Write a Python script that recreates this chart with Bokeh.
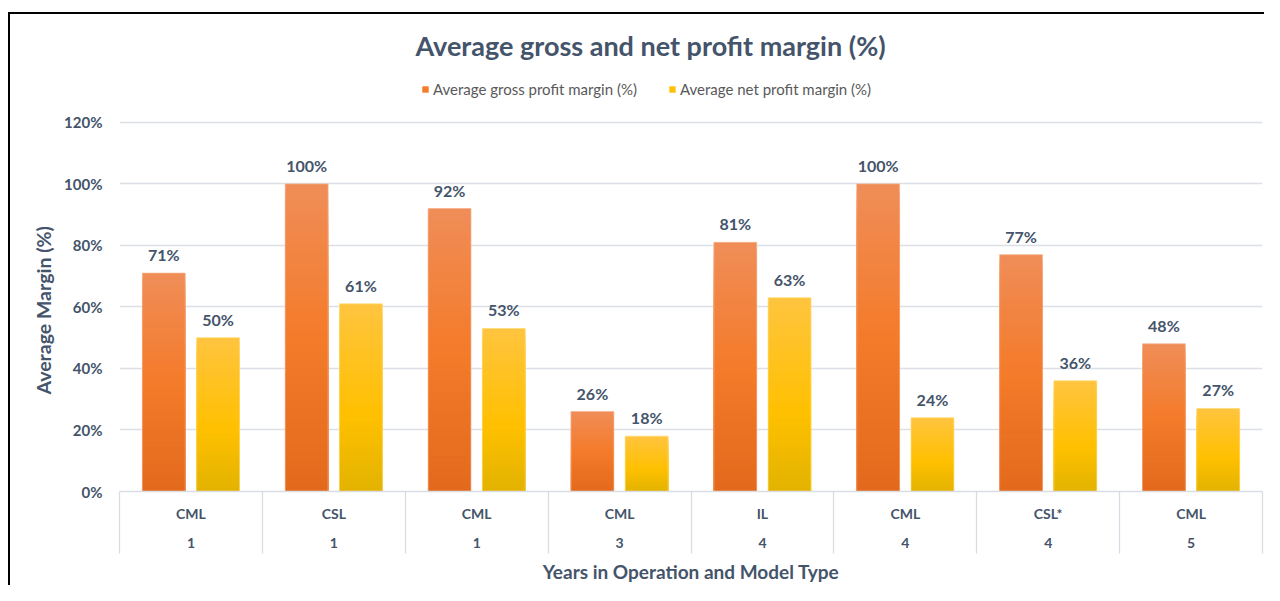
import numpy as np
from bokeh.plotting import figure
from bokeh.models import (ColumnDataSource, FixedTicker, LinearAxis, Legend, LegendItem,
                          PrintfTickFormatter, Range1d, LabelSet, Title)
from bokeh.core.properties import value
from bokeh.embed import file_html
from bokeh.resources import INLINE

# ---------------- data ----------------
models = ["CML", "CSL", "CML", "CML", "IL", "CML", "CSL*", "CML"]
years = ["1", "1", "1", "3", "4", "4", "4", "5"]
gross = [71, 100, 92, 26, 81, 100, 77, 48]
net = [50, 61, 53, 18, 63, 24, 36, 27]
y_ticks = [0, 20, 40, 60, 80, 100, 120]
series_names = ["Average gross profit margin (%)", "Average net profit margin (%)"]

# ---------------- style / layout ----------------
TXT = "#44546A"
FONT = "Lato"
ORANGE_STOPS = [(0.0, "#E3691C"), (0.5, "#F47B2A"), (1.0, "#F08D58")]
YELLOW_STOPS = [(0.0, "#E2B300"), (0.4, "#FFC000"), (1.0, "#FFC43F")]
NS = 40
BAR_W = 0.30
OFF = 0.19
Y_MAX = 139.8   # room above the 120% gridline for the legend (inside the plot area)


def hex2rgb(h):
    h = h.lstrip("#")
    return [int(h[i:i + 2], 16) for i in (0, 2, 4)]


def grad(stops, t):
    for (p0, c0), (p1, c1) in zip(stops[:-1], stops[1:]):
        if p0 <= t <= p1:
            f = (t - p0) / (p1 - p0)
            a, b = hex2rgb(c0), hex2rgb(c1)
            return "#%02x%02x%02x" % tuple(int(round(a[i] + (b[i] - a[i]) * f)) for i in range(3))
    return stops[-1][1]


n = len(models)
centers = [i + 0.5 for i in range(n)]

p = figure(width=1264, height=585, x_range=Range1d(0, n), y_range=Range1d(0, Y_MAX),
           output_backend="svg", toolbar_location=None, x_axis_location=None,
           min_border_left=119, min_border_right=2, min_border_top=61, min_border_bottom=93)
p.styles = {"background": "linear-gradient(#000000,#000000) 8px 12px / 2px 100% no-repeat, "
                          "linear-gradient(#000000,#000000) 8px 12px / 100% 2px no-repeat, #ffffff"}
p.outline_line_color = None
p.background_fill_color = "white"
p.border_fill_color = None


def slices(vals, offset, stops):
    xs, tops, cols = [], [], []
    for k in range(NS - 1, -1, -1):
        t = (k + 0.5) / NS
        c = grad(stops, t)
        for i, v in enumerate(vals):
            xs.append(centers[i] + offset)
            tops.append(v * (k + 1) / NS)
            cols.append(c)
    return ColumnDataSource(dict(x=xs, top=tops, color=cols))


r_g = p.vbar(x="x", top="top", bottom=0, width=BAR_W, fill_color="color", line_color=None,
             source=slices(gross, -OFF, ORANGE_STOPS))
r_n = p.vbar(x="x", top="top", bottom=0, width=BAR_W, fill_color="color", line_color=None,
             source=slices(net, OFF, YELLOW_STOPS))

# faint light outline of the bars
p.vbar(x=[c - OFF for c in centers], top=gross, bottom=0, width=BAR_W, fill_color=None,
       line_color="#F6B08A", line_alpha=0.7, line_width=1)
p.vbar(x=[c + OFF for c in centers], top=net, bottom=0, width=BAR_W, fill_color=None,
       line_color="#FFDC73", line_alpha=0.7, line_width=1)

# data labels
lab_src = ColumnDataSource(dict(
    x=[c - OFF for c in centers] + [c + OFF for c in centers],
    y=gross + net,
    t=["%d%%" % v for v in gross] + ["%d%%" % v for v in net]))
p.add_layout(LabelSet(x="x", y="y", text="t", source=lab_src, y_offset=9,
                      text_align="center", text_baseline="bottom", text_font=value(FONT),
                      text_font_size=value("16px"), text_font_style=value("bold"),
                      text_color=value(TXT)))

# y axis
ya = p.yaxis[0]
ya.ticker = FixedTicker(ticks=y_ticks)
ya.formatter = PrintfTickFormatter(format="%d%%")
ya.axis_line_color = None
ya.major_tick_line_color = None
ya.minor_tick_line_color = None
ya.major_tick_out = 0
ya.major_tick_in = 0
ya.minor_tick_out = 0
ya.major_label_standoff = 17
ya.major_label_text_font = FONT
ya.major_label_text_font_size = "15px"
ya.major_label_text_font_style = "bold"
ya.major_label_text_color = TXT

# y axis title (starts ~97px above the plot bottom, like the reference)
p.add_layout(Title(text="Average Margin (%)", align="left", offset=97, standoff=14,
                   text_font=FONT, text_font_size="19.5px", text_font_style="bold",
                   text_color=TXT), "left")

p.ygrid.ticker = FixedTicker(ticks=y_ticks)
p.ygrid.grid_line_color = "#DCE0E6"
p.ygrid.grid_line_width = 1.3
p.xgrid.visible = False

# x axes (two levels); the separators are the minor ticks of the first axis
ax1 = LinearAxis(ticker=FixedTicker(ticks=centers, minor_ticks=list(range(n + 1))),
                 major_label_overrides={c: m for c, m in zip(centers, models)})
ax1.major_tick_out = 0
ax1.major_tick_in = 0
ax1.major_tick_line_color = None
ax1.minor_tick_out = 62
ax1.minor_tick_in = 0
ax1.minor_tick_line_color = "#D9DDE3"
ax1.minor_tick_line_width = 1.3
ax1.axis_line_color = "#D9DDE3"
ax1.axis_line_width = 1.3
ax1.major_label_standoff = -49
ax1.major_label_text_font = FONT
ax1.major_label_text_font_size = "14px"
ax1.major_label_text_font_style = "bold"
ax1.major_label_text_color = TXT
p.add_layout(ax1, "below")

ax2 = LinearAxis(ticker=FixedTicker(ticks=centers, minor_ticks=[]),
                 major_label_overrides={c: y for c, y in zip(centers, years)})
ax2.major_tick_out = 0
ax2.major_tick_in = 0
ax2.minor_tick_out = 0
ax2.minor_tick_in = 0
ax2.major_tick_line_color = None
ax2.minor_tick_line_color = None
ax2.axis_line_color = None
ax2.major_label_standoff = 13
ax2.major_label_text_font = FONT
ax2.major_label_text_font_size = "14px"
ax2.major_label_text_font_style = "bold"
ax2.major_label_text_color = TXT
ax2.axis_label = "Years in Operation and Model Type"
ax2.axis_label_text_font = FONT
ax2.axis_label_text_font_size = "19px"
ax2.axis_label_text_font_style = "bold"
ax2.axis_label_text_color = TXT
ax2.axis_label_standoff = 9
p.add_layout(ax2, "below")

# title (left-aligned with an offset so it sits over the chart's centre)
p.title.text = "Average gross and net profit margin (%)"
p.title.align = "left"
p.title.offset = 296
p.title.text_font = FONT
p.title.text_font_size = "27px"
p.title.text_font_style = "bold"
p.title.text_color = TXT
p.title.standoff = 0

# legend (inside the plot area, above the 120% gridline)
mid = NS // 2 * n
legend = Legend(items=[LegendItem(label=series_names[0], renderers=[r_g], index=mid),
                       LegendItem(label=series_names[1], renderers=[r_n], index=mid + 8)],
                orientation="horizontal", location=(302, 393),
                border_line_color=None, background_fill_alpha=0,
                label_text_font=FONT, label_text_font_size="15px", label_text_color="#595959",
                glyph_width=8, glyph_height=8, label_standoff=4, spacing=31,
                margin=0, padding=0)
p.add_layout(legend, "center")

open("out.html", "w").write(file_html(p, INLINE))
